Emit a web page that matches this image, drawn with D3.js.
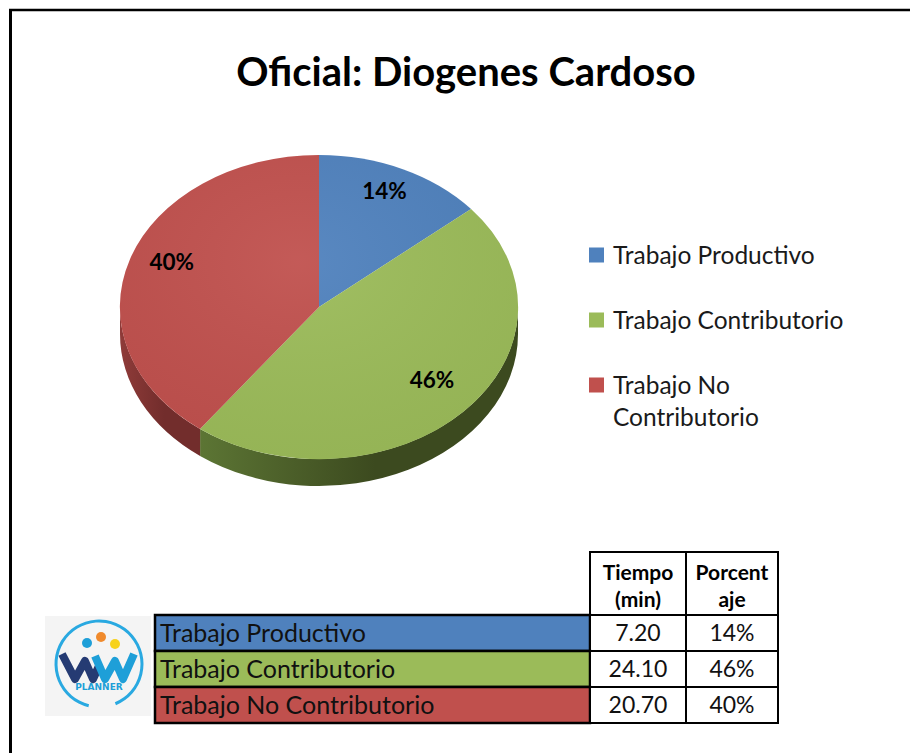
<!DOCTYPE html>
<html>
<head>
<meta charset="utf-8">
<script src="https://cdn.jsdelivr.net/npm/d3@7"></script>
<style>
  body { margin: 0; background: #fff; }
  svg { display: block; font-family: Lato, "Open Sans", sans-serif; }
</style>
</head>
<body>
<div id="chart"></div>
<script>
// DATA
var categories = ["Trabajo Productivo", "Trabajo Contributorio", "Trabajo No Contributorio"];
var tiempos = [7.20, 24.10, 20.70];
var porcentajes = [14, 46, 40];
var colors = ["#4F81BD", "#9BBB59", "#C0504D"];
var sideColors = [["#3a5f8c", "#2c4a6e"], ["#5c7534", "#3c4a1f"], ["#8f3b39", "#722d2c"]];
var legendLines = [["Trabajo Productivo"], ["Trabajo Contributorio"], ["Trabajo No", "Contributorio"]];
var headerLines = [["Tiempo", "(min)"], ["Porcent", "aje"]];

var W = 910, H = 753;
var svg = d3.select("#chart").append("svg")
  .attr("width", W).attr("height", H);

//FRAME
svg.append("line").attr("x1", 10.5).attr("y1", 9).attr("x2", 10.5).attr("y2", H)
  .attr("stroke", "#000").attr("stroke-width", 3);
svg.append("line").attr("x1", 9).attr("y1", 10).attr("x2", W).attr("y2", 10)
  .attr("stroke", "#000").attr("stroke-width", 2.5);

//TITLE
svg.append("text")
  .attr("x", 466).attr("y", 86)
  .attr("text-anchor", "middle")
  .style("font-size", "40px").style("font-weight", "bold")
  .text("Oficial: Diogenes Cardoso");

//PIE (3D ELLIPSE)
var pie = { cx: 319, cy: 307, rx: 199, ry: 152, depth: 27 };
var arcs = d3.pie().sort(null)(tiempos);

var defs = svg.append("defs");
sideColors.forEach(function(c, i) {
  var g = defs.append("linearGradient").attr("id", "side" + i)
    .attr("x1", "0").attr("x2", "1").attr("y1", "0").attr("y2", "0");
  g.append("stop").attr("offset", "0%").attr("stop-color", c[0]);
  g.append("stop").attr("offset", "55%").attr("stop-color", c[1]);
  g.append("stop").attr("offset", "100%").attr("stop-color", c[1]);
});
var shine = defs.append("radialGradient").attr("id", "shine")
  .attr("cx", "0.45").attr("cy", "0.35").attr("r", "0.7");
shine.append("stop").attr("offset", "0%").attr("stop-color", "#fff").attr("stop-opacity", 0.06);
shine.append("stop").attr("offset", "100%").attr("stop-color", "#000").attr("stop-opacity", 0.04);

var pieG = svg.append("g")
  .attr("transform", `translate(${pie.cx}, ${pie.cy}) scale(${pie.rx}, ${pie.ry})`);

var d = pie.depth / pie.ry;

// side walls, only front half visible
function sidePath(a) {
  var a0 = Math.max(a.startAngle, Math.PI / 2),
      a1 = Math.min(a.endAngle, Math.PI * 1.5);
  if (a1 <= a0) return null;
  var p = d3.path();
  p.moveTo(Math.sin(a0), -Math.cos(a0));
  p.arc(0, 0, 1, a0 - Math.PI / 2, a1 - Math.PI / 2);
  p.lineTo(Math.sin(a1), -Math.cos(a1) + d);
  p.arc(0, d, 1, a1 - Math.PI / 2, a0 - Math.PI / 2, true);
  p.closePath();
  return p.toString();
}

pieG.selectAll("path.side")
  .data(arcs.filter(function(a) { return sidePath(a) !== null; }))
  .enter().append("path")
  .attr("class", "side")
  .attr("d", sidePath)
  .attr("fill", function(a) { return "url(#side" + a.index + ")"; });

var arc = d3.arc().innerRadius(0).outerRadius(1);
pieG.selectAll("path.top")
  .data(arcs)
  .enter().append("path")
  .attr("class", "top")
  .attr("d", arc)
  .attr("fill", function(a, i) { return colors[i]; });

pieG.append("ellipse").attr("cx", 0).attr("cy", 0).attr("rx", 1).attr("ry", 1)
  .attr("fill", "url(#shine)");

//PIE LABELS
var labelArc = d3.arc().innerRadius(0.78).outerRadius(0.78);
svg.selectAll("text.plabel")
  .data(arcs)
  .enter().append("text")
  .attr("class", "plabel")
  .attr("x", function(a) { return pie.cx + labelArc.centroid(a)[0] * pie.rx; })
  .attr("y", function(a) { return pie.cy - 8 + labelArc.centroid(a)[1] * pie.ry + 8; })
  .attr("text-anchor", "middle")
  .style("font-size", "22.5px").style("font-weight", "bold")
  .text(function(a, i) { return porcentajes[i] + "%"; });

//LEGEND
var legendY = d3.scalePoint().domain(categories).range([255, 385]);
var legend = svg.selectAll("g.legend")
  .data(categories)
  .enter().append("g")
  .attr("class", "legend")
  .attr("transform", function(c) { return `translate(589, ${legendY(c)})`; });

legend.append("rect")
  .attr("x", 0).attr("y", -7.5).attr("width", 15).attr("height", 15)
  .attr("fill", function(c, i) { return colors[i]; });

legend.append("text")
  .attr("x", 24).attr("y", 8.5)
  .style("font-size", "24.5px").attr("fill", "#1a1a1a")
  .selectAll("tspan")
  .data(function(c, i) { return legendLines[i]; })
  .enter().append("tspan")
  .attr("x", 24)
  .attr("dy", function(t, j) { return j === 0 ? 0 : 32; })
  .text(function(t) { return t; });

//TABLE
var colX = [155, 590, 686, 778];
var rowY = d3.scaleBand().domain(categories).range([615, 723]);

// header cells
headerLines.forEach(function(lines, j) {
  svg.append("rect")
    .attr("x", colX[j + 1]).attr("y", 552)
    .attr("width", colX[j + 2] - colX[j + 1]).attr("height", 615 - 552)
    .attr("fill", "#fff").attr("stroke", "#000").attr("stroke-width", 2);
  svg.append("text")
    .attr("text-anchor", "middle")
    .style("font-size", "21px").style("font-weight", "bold")
    .selectAll("tspan").data(lines).enter().append("tspan")
    .attr("x", (colX[j + 1] + colX[j + 2]) / 2)
    .attr("y", function(t, k) { return 580 + k * 27; })
    .text(function(t) { return t; });
});

var rows = svg.selectAll("g.row")
  .data(categories)
  .enter().append("g")
  .attr("class", "row")
  .attr("transform", function(c) { return `translate(0, ${rowY(c)})`; });

rows.append("rect")
  .attr("x", colX[0]).attr("y", 0)
  .attr("width", colX[1] - colX[0]).attr("height", rowY.bandwidth())
  .attr("fill", function(c, i) { return colors[i]; })
  .attr("stroke", "#000").attr("stroke-width", 2.5);

rows.append("text")
  .attr("x", colX[0] + 5).attr("y", rowY.bandwidth() / 2 + 8.5)
  .style("font-size", "25px").attr("fill", "#111")
  .text(function(c) { return c; });

rows.append("rect")
  .attr("x", colX[1]).attr("y", 0)
  .attr("width", colX[2] - colX[1]).attr("height", rowY.bandwidth())
  .attr("fill", "#fff").attr("stroke", "#000").attr("stroke-width", 2);

rows.append("text")
  .attr("x", (colX[1] + colX[2]) / 2).attr("y", rowY.bandwidth() / 2 + 8)
  .attr("text-anchor", "middle")
  .style("font-size", "23px").attr("fill", "#111")
  .text(function(c, i) { return tiempos[i].toFixed(2); });

rows.append("rect")
  .attr("x", colX[2]).attr("y", 0)
  .attr("width", colX[3] - colX[2]).attr("height", rowY.bandwidth())
  .attr("fill", "#fff").attr("stroke", "#000").attr("stroke-width", 2);

rows.append("text")
  .attr("x", (colX[2] + colX[3]) / 2).attr("y", rowY.bandwidth() / 2 + 8)
  .attr("text-anchor", "middle")
  .style("font-size", "23px").attr("fill", "#111")
  .text(function(c, i) { return porcentajes[i] + "%"; });

//LOGO
var logo = svg.append("g").attr("transform", "translate(45, 616)");
logo.append("rect").attr("width", 106).attr("height", 100).attr("fill", "#f4f4f4");
logo.append("path")
  .attr("d", d3.arc().innerRadius(41.5).outerRadius(44.5).startAngle(-2.9).endAngle(2.75)())
  .attr("transform", "translate(54, 48)")
  .attr("fill", "#29a9e1");
logo.append("circle").attr("cx", 42).attr("cy", 27).attr("r", 5).attr("fill", "#1e9fd8");
logo.append("circle").attr("cx", 56).attr("cy", 21).attr("r", 5).attr("fill", "#f08a2c");
logo.append("circle").attr("cx", 70).attr("cy", 28).attr("r", 5).attr("fill", "#f7d21c");
logo.append("path")
  .attr("d", "M17,38 L30,63 L40,45 L48,63 L54,50")
  .attr("fill", "none").attr("stroke", "#253b73").attr("stroke-width", 8)
  .attr("stroke-linejoin", "round");
logo.append("path")
  .attr("d", "M50,40 L60,63 L70,45 L78,63 L89,38")
  .attr("fill", "none").attr("stroke", "#1e9fd8").attr("stroke-width", 8)
  .attr("stroke-linejoin", "round");
logo.append("text")
  .attr("x", 54).attr("y", 74)
  .attr("text-anchor", "middle")
  .style("font-size", "9px").style("font-weight", "bold")
  .style("font-family", "'DejaVu Sans', sans-serif")
  .attr("fill", "#1e9fd8")
  .text("PLANNER");
</script>
</body>
</html>
